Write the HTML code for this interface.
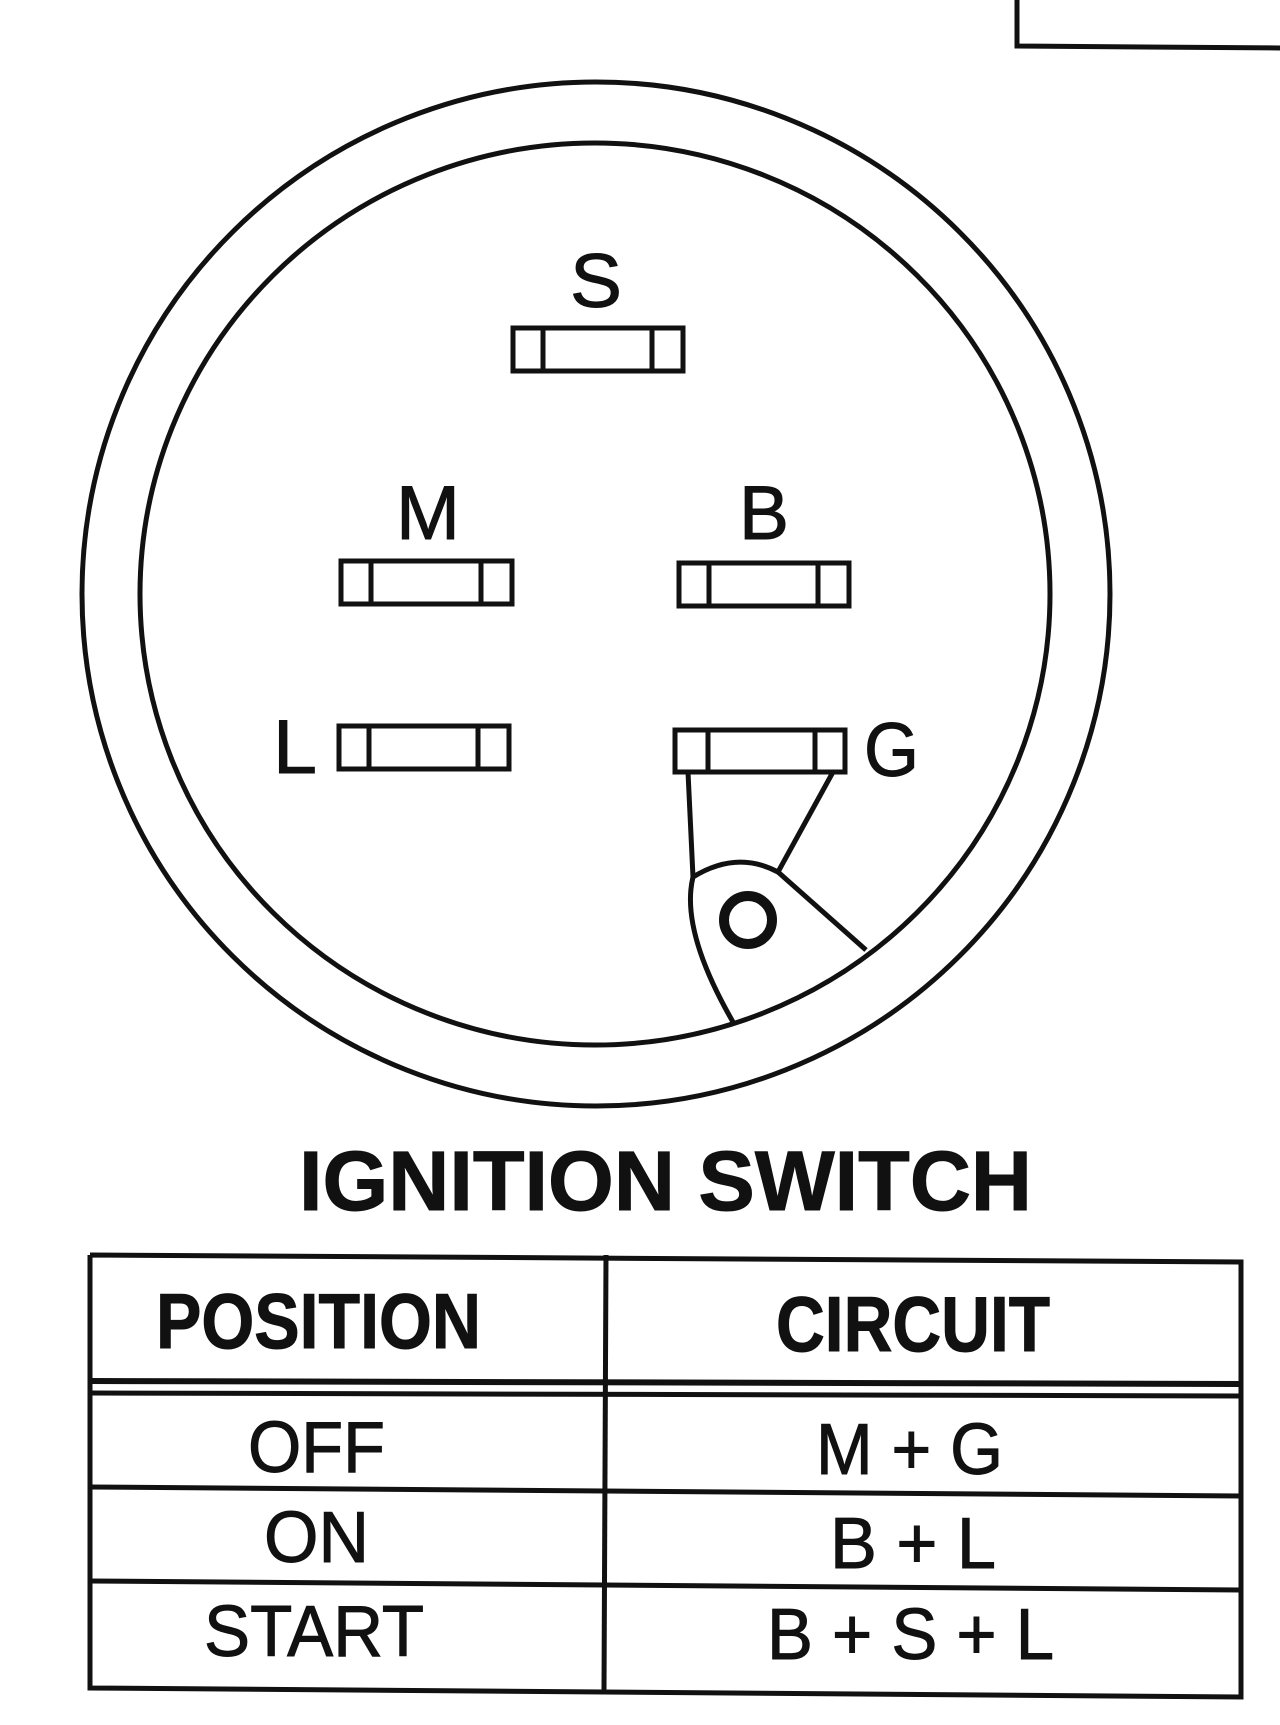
<!DOCTYPE html>
<html><head><meta charset="utf-8"><style>html,body{margin:0;padding:0;background:#fff}svg{display:block}</style></head>
<body>
<svg width="1280" height="1725" viewBox="0 0 1280 1725" xmlns="http://www.w3.org/2000/svg">
<g fill="none" stroke="#111" stroke-width="5">
<polyline points="1017,0 1017,46 1280,48"/>
<ellipse cx="596" cy="594" rx="514" ry="512"/>
<ellipse cx="595" cy="594" rx="455" ry="451"/>
<g>
<rect x="513" y="328" width="170" height="43"/><line x1="543" y1="328" x2="543" y2="371"/><line x1="652" y1="328" x2="652" y2="371"/>
<rect x="341" y="561" width="171" height="43"/><line x1="371" y1="561" x2="371" y2="604"/><line x1="481" y1="561" x2="481" y2="604"/>
<rect x="679" y="563" width="170" height="43"/><line x1="709" y1="563" x2="709" y2="606"/><line x1="818" y1="563" x2="818" y2="606"/>
<rect x="339" y="726" width="170" height="43"/><line x1="369" y1="726" x2="369" y2="769"/><line x1="478" y1="726" x2="478" y2="769"/>
<rect x="675" y="730" width="170" height="42"/><line x1="708" y1="730" x2="708" y2="772"/><line x1="815" y1="730" x2="815" y2="772"/>
</g>
<path d="M688,772 L693,877 Q737,850 778,872 L833,772"/>
<path d="M778,872 L866,950"/>
<path d="M693,877 Q680,930 733,1022"/>
<circle cx="748" cy="920" r="24" stroke-width="10"/>
<polyline points="90,1255 1241,1262 1241,1697 90,1688 90,1255"/>
<line x1="606" y1="1255" x2="604" y2="1690"/>
<line x1="90" y1="1381" x2="1241" y2="1384" stroke-width="6"/>
<line x1="90" y1="1393" x2="1241" y2="1396" stroke-width="5"/>
<line x1="90" y1="1487" x2="1241" y2="1496"/>
<line x1="90" y1="1581" x2="1241" y2="1590"/>
</g>
<g font-family="Liberation Sans, Arial, sans-serif" fill="#111" stroke="#111" stroke-width="1">
<text x="570" y="307" font-size="76" textLength="52" lengthAdjust="spacingAndGlyphs">S</text>
<text x="396" y="539" font-size="76" textLength="64" lengthAdjust="spacingAndGlyphs">M</text>
<text x="739" y="539" font-size="76" textLength="50" lengthAdjust="spacingAndGlyphs">B</text>
<text x="273" y="773" font-size="76" textLength="44" lengthAdjust="spacingAndGlyphs">L</text>
<text x="864" y="776" font-size="76" textLength="55" lengthAdjust="spacingAndGlyphs">G</text>
<text x="299" y="1210" font-size="84" font-weight="bold" textLength="733" lengthAdjust="spacingAndGlyphs">IGNITION SWITCH</text>
<text x="156" y="1348" font-size="78" font-weight="bold" textLength="325" lengthAdjust="spacingAndGlyphs">POSITION</text>
<text x="776" y="1351" font-size="78" font-weight="bold" textLength="274" lengthAdjust="spacingAndGlyphs">CIRCUIT</text>
<text x="248" y="1472" font-size="72" textLength="137" lengthAdjust="spacingAndGlyphs">OFF</text>
<text x="816" y="1474" font-size="72" textLength="187" lengthAdjust="spacingAndGlyphs">M + G</text>
<text x="264" y="1562" font-size="72" textLength="105" lengthAdjust="spacingAndGlyphs">ON</text>
<text x="830" y="1568" font-size="72" textLength="166" lengthAdjust="spacingAndGlyphs">B + L</text>
<text x="204" y="1656" font-size="72" textLength="220" lengthAdjust="spacingAndGlyphs">START</text>
<text x="767" y="1659" font-size="72" textLength="287" lengthAdjust="spacingAndGlyphs">B + S + L</text>
</g>
</svg>
</body></html>
